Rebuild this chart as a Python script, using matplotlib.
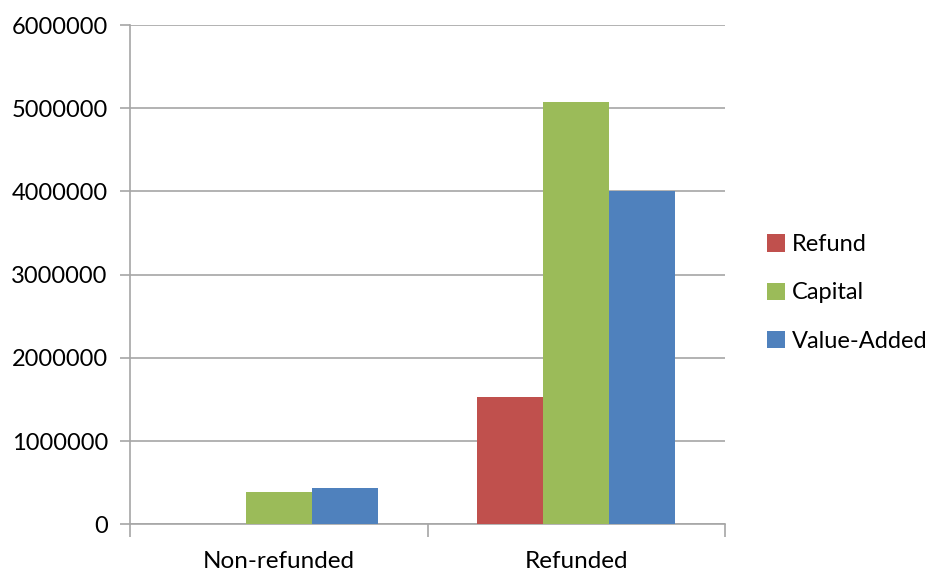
import matplotlib
matplotlib.use("Agg")
import matplotlib.pyplot as plt
from matplotlib.patches import Patch
import numpy as np

categories = ["Non-refunded", "Refunded"]
series_names = ["Refund", "Capital", "Value-Added"]
refund = [0, 1530000]
capital = [390000, 5080000]
value_added = [436000, 4000000]
y_ticks = [0, 1000000, 2000000, 3000000, 4000000, 5000000, 6000000]

colors = ["#C0504D", "#9BBB59", "#4F81BD"]
grid_color = "#A6A6A6"

plt.rcParams["font.family"] = ["Lato", "DejaVu Sans"]

fig = plt.figure(figsize=(9.33, 5.72), dpi=100)
ax = fig.add_axes([130 / 933, 1 - 524.3 / 572, 595 / 933, (524.3 - 25) / 572])

n = len(series_names)
width = 1 / (n + 1.5)
centers = np.arange(len(categories)) + 0.5
for i, (vals, c) in enumerate(zip([refund, capital, value_added], colors)):
    offs = (i - (n - 1) / 2) * width
    ax.bar(centers + offs, vals, width=width, color=c, edgecolor="none", zorder=3)

ax.set_xlim(0, len(categories))
ax.set_ylim(0, 6000000)
ax.set_yticks(y_ticks)
ax.set_yticklabels([str(v) for v in y_ticks])
ax.yaxis.grid(True, color=grid_color, linewidth=1.2, zorder=0)

ax.set_xticks(np.arange(len(categories) + 1))
ax.set_xticklabels([])
ax.set_xticks(centers, minor=True)
ax.set_xticklabels(categories, minor=True)
ax.tick_params(axis="x", which="major", length=9, width=1.2, color=grid_color, direction="out")
ax.tick_params(axis="x", which="minor", length=0, pad=19, labelsize=17.5)
ax.tick_params(axis="y", length=7, width=1.2, color=grid_color, pad=9, labelsize=17)

for s in ["top", "right"]:
    ax.spines[s].set_visible(False)
for s in ["left", "bottom"]:
    ax.spines[s].set_color(grid_color)
    ax.spines[s].set_linewidth(1.2)

handles = [Patch(facecolor=c, edgecolor="none", label=l) for c, l in zip(colors, series_names)]
fig.legend(handles=handles, loc="center left", bbox_to_anchor=(746 / 933, 1 - 293 / 572),
           frameon=False, fontsize=17, handlelength=0.75, handleheight=0.75,
           handletextpad=0.3, labelspacing=1.15)

fig.savefig("out.png", dpi=100)
